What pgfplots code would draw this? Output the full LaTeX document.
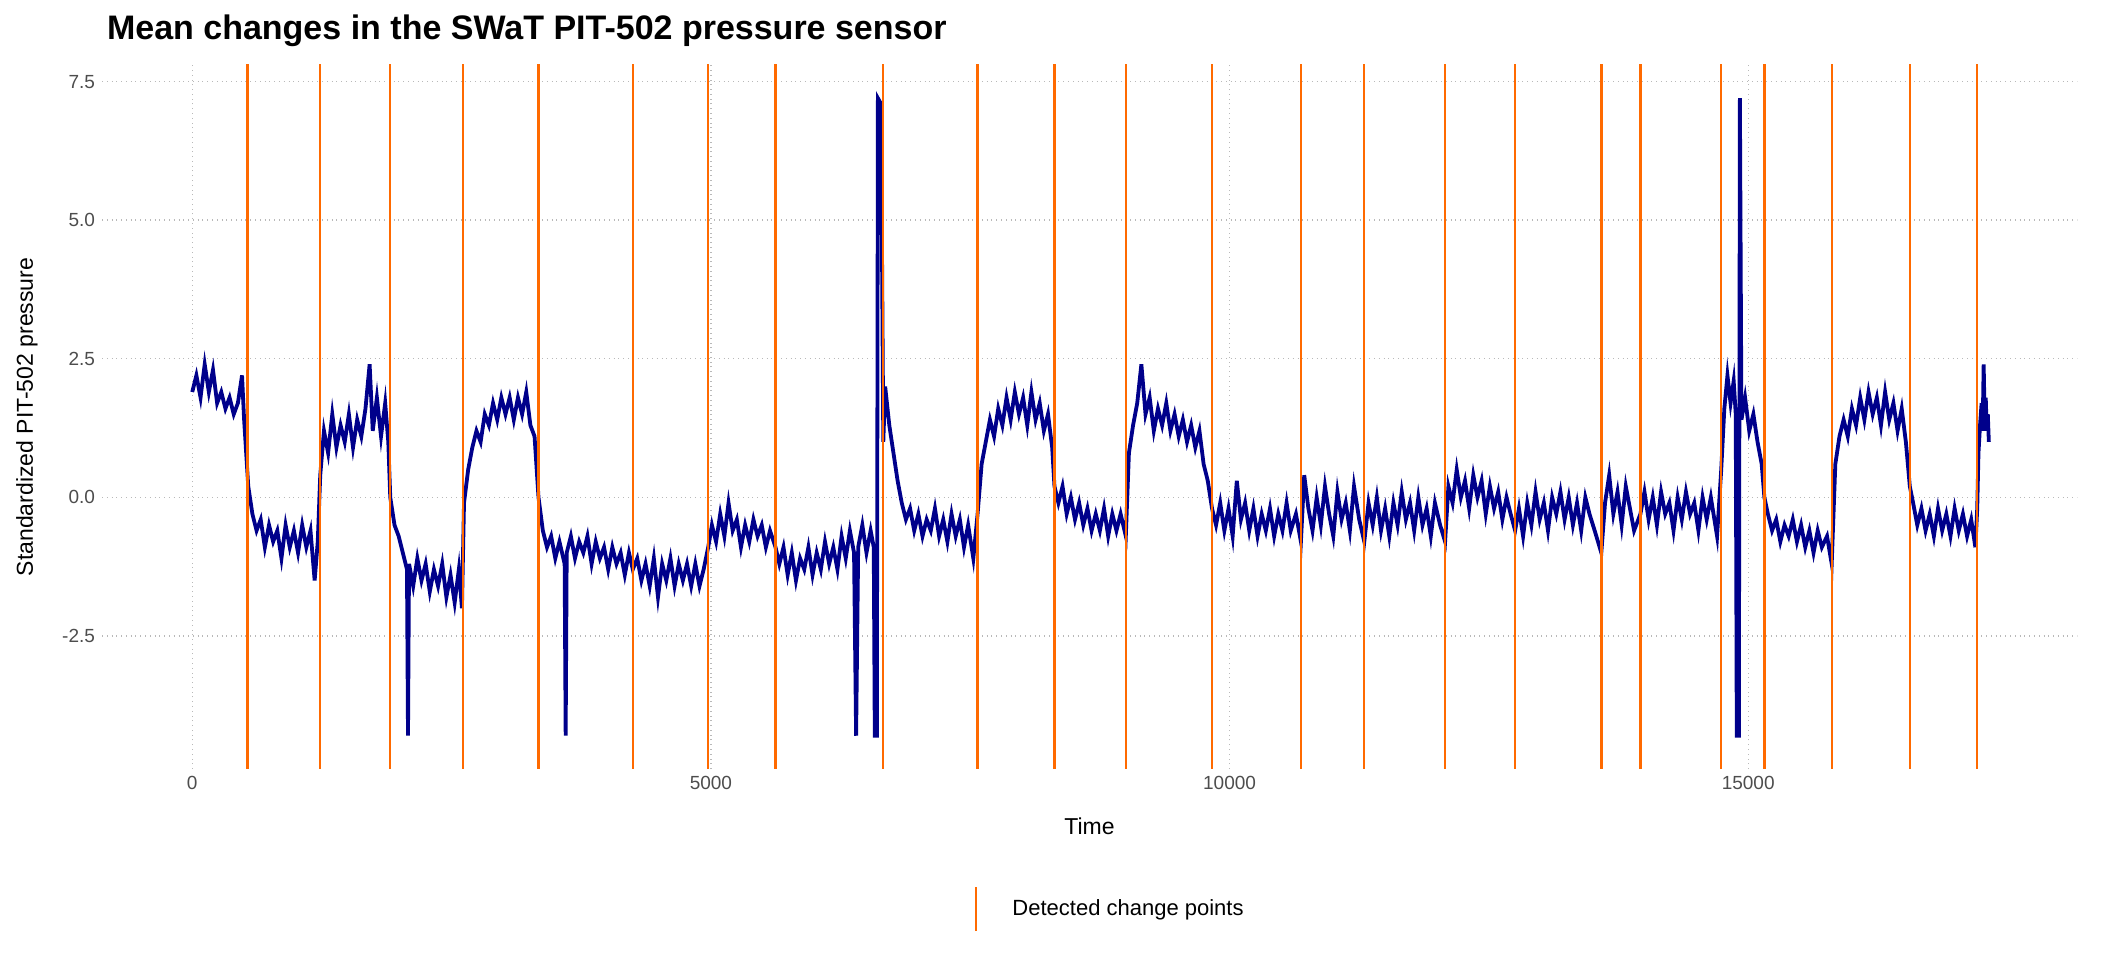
\documentclass[border=0pt]{standalone}
\usepackage{pgfplots}
\pgfplotsset{compat=1.18}
\usepackage{fontspec}
\setmainfont{Liberation Sans}
\definecolor{navyline}{HTML}{00008B}
\definecolor{cpor}{HTML}{FF6A00}
\definecolor{tickgray}{HTML}{4D4D4D}
\begin{document}
\begin{tikzpicture}
\useasboundingbox (0,0) rectangle (1056bp,480bp);
\begin{axis}[
  at={(51bp,95.5bp)}, anchor=south west,
  scale only axis, width=987.5bp, height=352bp,
  xmin=-870, xmax=18170, ymin=-4.9, ymax=7.8,
  axis line style={draw=none}, tick style={draw=none},
  grid=major, grid style={dotted, gray!55, line width=0.7pt},
  xtick={0,5000,10000,15000}, ytick={-2.5,0,2.5,5,7.5},
  scaled ticks=false,
  yticklabel style={/pgf/number format/fixed, /pgf/number format/fixed zerofill, /pgf/number format/precision=1},
  xticklabel style={/pgf/number format/set thousands separator={}},
  /pgf/number format/assume math mode=true,
  ticklabel style={font=\fontsize{9.5bp}{11bp}\selectfont, text=tickgray},
  unbounded coords=jump,
  title={\bfseries Mean changes in the SWaT PIT-502 pressure sensor},
  title style={at={(0,1)}, anchor=west, xshift=-1bp, yshift=11bp, font=\fontsize{17bp}{20bp}\selectfont},
  xlabel={Time}, ylabel={Standardized PIT-502 pressure},
  xlabel style={at={(axis description cs:0.5,0)}, anchor=center, yshift=-28.5bp, font=\fontsize{11.5bp}{13bp}\selectfont},
  ylabel style={at={(axis description cs:-0.038,0.5)}, anchor=center, font=\fontsize{11.5bp}{13bp}\selectfont},
  legend style={at={(0.511,-0.199)}, anchor=center, draw=none, font=\fontsize{11bp}{13bp}\selectfont},
  legend cell align=left,
]
\addplot[navyline, line width=1.9bp, forget plot] coordinates {
(0,1.9)(40,2.2)(80,1.8)(120,2.4)(160,1.9)(200,2.3)(240,1.7)(280,1.9)(320,1.6)(360,1.8)(400,1.5)(440,1.7)(480,2.2)(500,1.4)(520,0.8)(540,0.2)
(580,-0.3)(620,-0.6)(660,-0.4)(700,-0.9)(740,-0.5)(780,-0.8)(820,-0.6)(860,-1.1)(900,-0.5)(940,-0.9)(980,-0.6)(1020,-1.0)(1060,-0.5)(1100,-0.9)(1140,-0.6)(1180,-1.5)(1210,-0.8)(1234,0.4)
(1270,1.2)(1310,0.8)(1350,1.5)(1390,0.9)(1430,1.3)(1470,1.0)(1510,1.5)(1550,0.9)(1590,1.4)(1630,1.1)(1670,1.6)(1710,2.4)(1740,1.2)(1780,1.8)(1820,1.1)(1860,1.7)(1890,1.0)(1909,0.0)
(1950,-0.5)(1990,-0.7)(2030,-1.0)(2070,-1.3)(2080,-4.3)(2090,-1.2)(2130,-1.6)(2170,-1.1)(2210,-1.5)(2250,-1.2)(2290,-1.7)(2330,-1.3)(2370,-1.6)(2410,-1.2)(2450,-1.8)(2490,-1.4)(2530,-1.9)(2570,-1.3)(2600,-2.0)(2620,-0.1)
(2660,0.5)(2700,0.9)(2740,1.2)(2780,1.0)(2820,1.5)(2860,1.3)(2900,1.7)(2940,1.4)(2980,1.8)(3020,1.5)(3060,1.8)(3100,1.4)(3140,1.8)(3180,1.5)(3220,1.9)(3260,1.3)(3300,1.1)(3338,0.0)
(3380,-0.6)(3420,-0.9)(3460,-0.7)(3500,-1.1)(3540,-0.8)(3590,-1.2)(3600,-4.3)(3610,-1.0)(3650,-0.7)(3690,-1.1)(3730,-0.8)(3770,-1.0)(3810,-0.7)(3850,-1.2)(3890,-0.8)(3930,-1.1)(3970,-0.9)(4010,-1.3)(4050,-0.9)(4090,-1.2)(4130,-1.0)(4170,-1.4)(4210,-1.0)(4247,-1.3)
(4290,-1.1)(4330,-1.5)(4370,-1.2)(4410,-1.6)(4450,-1.1)(4490,-1.8)(4530,-1.2)(4570,-1.5)(4610,-1.1)(4650,-1.6)(4690,-1.2)(4730,-1.5)(4770,-1.2)(4810,-1.6)(4850,-1.2)(4890,-1.6)(4930,-1.3)(4974,-0.9)
(5010,-0.5)(5050,-0.8)(5090,-0.3)(5130,-0.7)(5170,-0.1)(5210,-0.6)(5250,-0.4)(5290,-0.9)(5330,-0.5)(5370,-0.8)(5410,-0.4)(5450,-0.7)(5490,-0.5)(5530,-0.9)(5570,-0.6)(5623,-0.9)
(5660,-1.2)(5700,-0.9)(5740,-1.4)(5780,-1.0)(5820,-1.5)(5860,-1.1)(5900,-1.3)(5940,-0.9)(5980,-1.4)(6020,-1.0)(6060,-1.3)(6100,-0.8)(6140,-1.2)(6180,-0.9)(6220,-1.3)(6260,-0.7)(6300,-1.1)(6340,-0.6)(6380,-1.0)(6400,-4.3)(6420,-0.9)(6460,-0.5)(6500,-1.0)(6540,-0.6)(6570,-0.9)(6580,-4.3)(6600,-4.3)(6610,7.2)(6640,7.1)(6662,1.0)
(6680,2.0)(6720,1.3)(6760,0.8)(6800,0.3)(6840,-0.1)(6880,-0.4)(6920,-0.2)(6960,-0.6)(7000,-0.3)(7040,-0.7)(7080,-0.4)(7120,-0.6)(7160,-0.2)(7200,-0.7)(7240,-0.4)(7280,-0.8)(7320,-0.3)(7360,-0.7)(7400,-0.4)(7440,-0.9)(7480,-0.5)(7530,-1.1)(7571,-0.3)
(7610,0.6)(7650,1.0)(7690,1.4)(7730,1.1)(7770,1.6)(7810,1.3)(7850,1.8)(7890,1.4)(7930,1.9)(7970,1.5)(8010,1.8)(8050,1.3)(8090,1.9)(8130,1.4)(8170,1.7)(8210,1.2)(8250,1.5)(8290,0.9)(8312,0.2)
(8350,-0.1)(8390,0.2)(8430,-0.3)(8470,0.0)(8510,-0.4)(8550,-0.1)(8590,-0.5)(8630,-0.2)(8670,-0.6)(8710,-0.3)(8750,-0.6)(8790,-0.2)(8830,-0.7)(8870,-0.3)(8910,-0.6)(8950,-0.3)(9000,-0.7)
(9030,0.8)(9070,1.3)(9110,1.7)(9150,2.4)(9190,1.5)(9230,1.8)(9270,1.2)(9310,1.6)(9350,1.3)(9390,1.7)(9430,1.2)(9470,1.5)(9510,1.1)(9550,1.4)(9590,1.0)(9630,1.3)(9670,0.9)(9710,1.2)(9750,0.6)(9790,0.3)(9831,-0.2)
(9870,-0.5)(9910,-0.1)(9950,-0.6)(9990,-0.2)(10030,-0.7)(10070,0.3)(10110,-0.4)(10150,-0.1)(10190,-0.6)(10230,-0.2)(10270,-0.7)(10310,-0.3)(10350,-0.6)(10390,-0.2)(10430,-0.7)(10470,-0.3)(10510,-0.6)(10550,-0.1)(10590,-0.6)(10640,-0.3)(10688,-0.8)
(10720,0.4)(10760,-0.2)(10800,-0.6)(10840,0.0)(10880,-0.5)(10920,0.2)(10960,-0.3)(11000,-0.7)(11040,0.1)(11080,-0.4)(11120,-0.1)(11160,-0.6)(11200,0.2)(11250,-0.4)(11299,-0.8)
(11340,-0.1)(11380,-0.5)(11420,0.0)(11460,-0.6)(11500,-0.2)(11540,-0.7)(11580,-0.1)(11620,-0.5)(11660,0.1)(11700,-0.4)(11740,-0.1)(11780,-0.6)(11820,0.0)(11860,-0.5)(11900,-0.2)(11940,-0.7)(11980,-0.1)(12030,-0.5)(12078,-0.8)
(12110,0.2)(12150,-0.1)(12190,0.5)(12230,0.0)(12270,0.3)(12310,-0.2)(12350,0.4)(12390,0.0)(12430,0.3)(12470,-0.3)(12510,0.2)(12550,-0.2)(12590,0.1)(12630,-0.4)(12670,0.0)(12710,-0.3)(12753,-0.6)
(12790,-0.2)(12830,-0.7)(12870,-0.1)(12910,-0.5)(12950,0.1)(12990,-0.4)(13030,-0.1)(13070,-0.6)(13110,0.0)(13150,-0.3)(13190,0.1)(13230,-0.4)(13270,0.0)(13310,-0.5)(13350,-0.1)(13390,-0.6)(13430,0.0)(13470,-0.3)(13520,-0.6)(13584,-1.0)
(13620,-0.1)(13660,0.4)(13700,-0.3)(13740,0.1)(13780,-0.5)(13820,0.2)(13860,-0.2)(13900,-0.6)(13961,-0.3)
(14000,0.1)(14040,-0.4)(14080,0.0)(14120,-0.5)(14160,0.1)(14200,-0.3)(14240,-0.1)(14280,-0.6)(14320,0.0)(14360,-0.4)(14400,0.1)(14440,-0.3)(14480,-0.1)(14520,-0.6)(14560,0.0)(14600,-0.4)(14640,0.0)(14700,-0.7)(14740,0.5)
(14770,1.6)(14800,2.2)(14830,1.7)(14860,2.1)(14880,1.5)(14890,-4.3)(14910,-4.3)(14920,7.2)(14935,1.4)(14970,1.8)(15010,1.2)(15050,1.5)(15090,1.0)(15130,0.6)(15156,0.0)
(15190,-0.3)(15230,-0.6)(15270,-0.4)(15310,-0.8)(15350,-0.5)(15390,-0.7)(15430,-0.4)(15470,-0.8)(15510,-0.5)(15550,-0.9)(15590,-0.6)(15630,-1.0)(15670,-0.6)(15710,-0.9)(15760,-0.7)(15805,-1.2)
(15840,0.6)(15880,1.1)(15920,1.4)(15960,1.1)(16000,1.6)(16040,1.3)(16080,1.8)(16120,1.4)(16160,1.9)(16200,1.5)(16240,1.8)(16280,1.3)(16320,1.9)(16360,1.4)(16400,1.7)(16440,1.2)(16480,1.6)(16520,1.0)(16558,0.2)
(16590,-0.1)(16630,-0.5)(16670,-0.2)(16710,-0.6)(16750,-0.3)(16790,-0.7)(16830,-0.2)(16870,-0.6)(16910,-0.3)(16950,-0.7)(16990,-0.2)(17030,-0.6)(17070,-0.3)(17110,-0.7)(17150,-0.4)(17190,-0.9)(17208,-0.2)
(17220,0.8)(17235,1.3)(17250,1.7)(17260,1.2)(17270,2.4)(17280,1.4)(17290,1.8)(17300,1.2)(17310,1.5)(17320,1.0)
};
\addplot[cpor, line width=1.2bp,
  legend image code/.code={\draw[cpor, line width=1.2bp] (0cm,-0.39cm) -- (0cm,0.39cm); \path (0.55cm,0cm);}]
coordinates {
(532,-20)(532,20)(532,nan)(1234,-20)(1234,20)(1234,nan)(1909,-20)(1909,20)(1909,nan)
(2610,-20)(2610,20)(2610,nan)(3338,-20)(3338,20)(3338,nan)(4247,-20)(4247,20)(4247,nan)
(4974,-20)(4974,20)(4974,nan)(5623,-20)(5623,20)(5623,nan)(6662,-20)(6662,20)(6662,nan)
(7571,-20)(7571,20)(7571,nan)(8312,-20)(8312,20)(8312,nan)(9000,-20)(9000,20)(9000,nan)
(9831,-20)(9831,20)(9831,nan)(10688,-20)(10688,20)(10688,nan)(11299,-20)(11299,20)(11299,nan)
(12078,-20)(12078,20)(12078,nan)(12753,-20)(12753,20)(12753,nan)(13584,-20)(13584,20)(13584,nan)
(13961,-20)(13961,20)(13961,nan)(14740,-20)(14740,20)(14740,nan)(15156,-20)(15156,20)(15156,nan)
(15805,-20)(15805,20)(15805,nan)(16558,-20)(16558,20)(16558,nan)(17208,-20)(17208,20)
};
\addlegendentry{Detected change points}
\end{axis}
\end{tikzpicture}
\end{document}
